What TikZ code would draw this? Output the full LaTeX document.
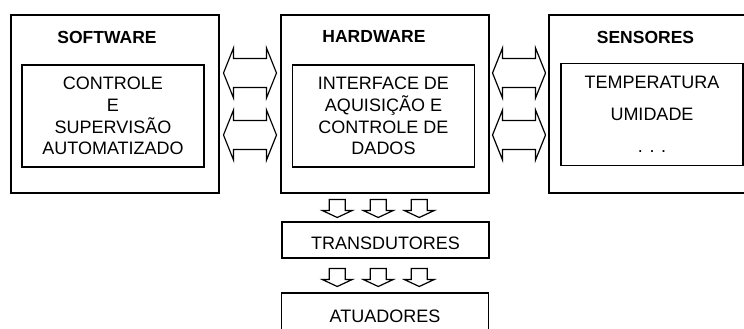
\documentclass[tikz,border=0pt]{standalone}
\usepackage{fontspec}
\setmainfont{Liberation Sans}
\usetikzlibrary{calc,positioning}
\tikzset{
    %Boxes of the three units and the stages below
    outerbox/.style={draw, line width=1.3pt, minimum width=208pt, minimum height=178pt},
    innerbox/.style={draw, line width=1.3pt, minimum width=182pt, minimum height=102pt, align=center, font=\fontsize{18}{21.7}\selectfont},
    headline/.style={font=\fontsize{17.5}{20}\selectfont\bfseries},
    stagebox/.style={draw, line width=1.3pt, minimum width=207pt, text height=19pt, font=\fontsize{18}{20}\selectfont},
    %Hollow block arrows
    blockarrow/.style={draw, line width=1.2pt, fill=white, line join=miter},
    dualarrow/.pic={\draw[blockarrow] (-26.5,0) -- (-16.5,-25) -- (-16.5,-14.5) -- (16.5,-14.5) -- (16.5,-25) -- (26.5,0) -- (16.5,25) -- (16.5,14.5) -- (-16.5,14.5) -- (-16.5,25) -- cycle;},
    downarrow/.pic={\draw[blockarrow] (-8,-9) -- (8,-9) -- (8,2) -- (15,2) -- (0,9) -- (-15,2) -- (-8,2) -- cycle;}
}

\begin{document}
\begin{tikzpicture}[x=1pt, y=-1pt]

	\useasboundingbox (0,0) rectangle (744,329);
	\clip (0,0) rectangle (744,329);

	\node (software) at (115, 104) [outerbox] {};
	\node (swcore) at (113, 116) [innerbox] {CONTROLE\\E\\SUPERVISÃO\\AUTOMATIZADO};
	\node (swtitle) at (107, 37) [headline] {SOFTWARE};

	\node (hardware) at (385, 104) [outerbox] {};
	\node (hwcore) at (383.5, 116) [innerbox] {INTERFACE DE\\AQUISIÇÃO E\\CONTROLE DE\\DADOS};
	\node (hwtitle) at (374, 36) [headline] {HARDWARE};

	\node (sensors) at (653, 104) [outerbox] {};
	\node (sncore) at (652, 114.5) [innerbox, font=\fontsize{18}{32}\selectfont] {TEMPERATURA\\UMIDADE\\. . .};
	\node (sntitle) at (645.5, 37) [headline] {SENSORES};

	% two-way links between the units
	\foreach \dy in {-31,31} {
		\path ($(software.east)!0.5!(hardware.west)$) ++(0,\dy) pic {dualarrow};
		\path ($(hardware.east)!0.5!(sensors.west)$) ++(0,\dy) pic {dualarrow};
	}

	\node (transducers) at (385.5, 240) [stagebox, minimum height=36pt] {TRANSDUTORES};
	\node (actuators) at (385, 313.5) [stagebox, minimum height=41pt] {ATUADORES};

	% flow down to the field devices
	\foreach \dx in {-48,-7,34} {
		\path ($(hardware.south)!0.5!(transducers.north)$) ++(\dx,1) pic {downarrow};
		\path ($(transducers.south)!0.5!(actuators.north)$) ++(\dx,2) pic {downarrow};
	}

\end{tikzpicture}
\end{document}
